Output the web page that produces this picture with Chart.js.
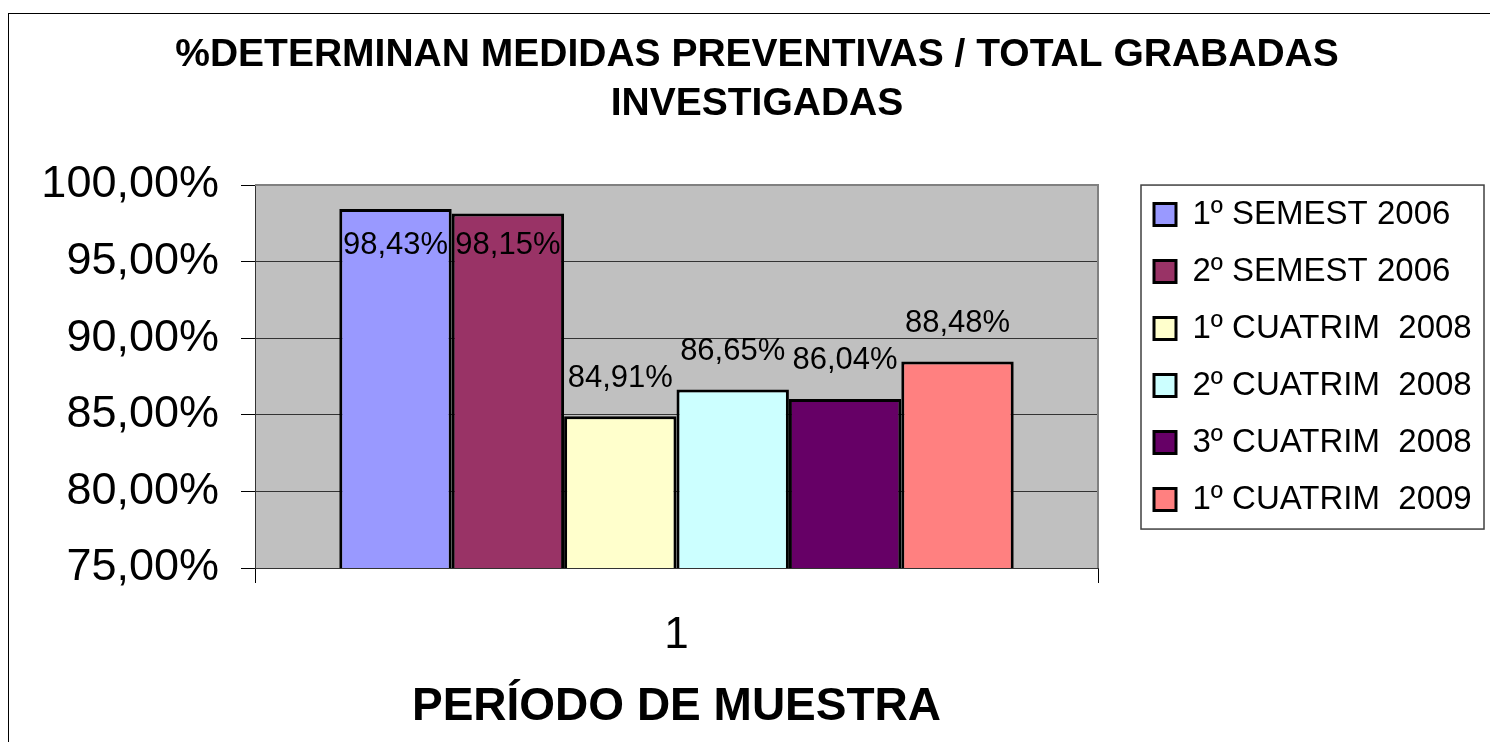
<!DOCTYPE html>
<html>
<head>
<meta charset="utf-8">
<script src="https://cdn.jsdelivr.net/npm/chart.js@4/dist/chart.umd.min.js"></script>
<style>
  html, body { margin: 0; padding: 0; background: #fff; }
  #wrap { width: 1490px; height: 742px; }
</style>
</head>
<body>
<div id="wrap"><canvas id="c" width="1490" height="742"></canvas></div>
<script>
// ---- data ----
const categories = ['1'];
const seriesLabels = ['1º SEMEST 2006', '2º SEMEST 2006', '1º CUATRIM  2008', '2º CUATRIM  2008', '3º CUATRIM  2008', '1º CUATRIM  2009'];
const seriesValues = [98.43, 98.15, 84.91, 86.65, 86.04, 88.48];
const seriesColors = ['#9999FF', '#993366', '#FFFFCC', '#CCFFFF', '#660066', '#FF8080'];
const yTickMin = 75;
const yTickMax = 100;
const yTickStep = 5;
const titleLines = ['%DETERMINAN MEDIDAS PREVENTIVAS / TOTAL GRABADAS', 'INVESTIGADAS'];
const xTitle = 'PERÍODO DE MUESTRA';

const FONT = "'Liberation Sans', Arial, sans-serif";
const fmt = v => v.toFixed(2).replace('.', ',') + '%';

const datasets = seriesLabels.map((lab, i) => ({
  label: lab,
  data: [seriesValues[i]],
  backgroundColor: seriesColors[i],
  borderColor: '#000000',
  borderWidth: 3,
  borderSkipped: false
}));

const framePlugin = {
  id: 'frame',
  beforeLayout(chart) {
    if (chart.legend && !chart.legend._fitPatched) {
      const orig = chart.legend.fit;
      chart.legend.fit = function () { orig.call(this); this.width = 392; };
      chart.legend._fitPatched = true;
    }
  },
  afterLayout(chart) {
    if (chart.legend) {
      chart.legend.left = chart.chartArea.right + 32;
      chart.legend.top = chart.chartArea.top - 11;
    }
  },
  beforeDraw(chart) {
    const { ctx, chartArea: a } = chart;
    ctx.save();
    ctx.fillStyle = '#ffffff';
    ctx.fillRect(0, 0, chart.width, chart.height);
    ctx.fillStyle = '#C0C0C0';
    ctx.fillRect(a.left, a.top, a.right - a.left, a.bottom - a.top);
    ctx.restore();
  },
  beforeDatasetsDraw(chart) {
    const { ctx, chartArea: a } = chart;
    ctx.save();
    ctx.strokeStyle = '#808080';
    ctx.lineWidth = 2;
    ctx.beginPath();
    ctx.moveTo(a.left, a.top);
    ctx.lineTo(a.right, a.top);
    ctx.lineTo(a.right, a.bottom);
    ctx.stroke();
    ctx.restore();
  },
  afterDatasetsDraw(chart) {
    const { ctx, chartArea: a } = chart;
    ctx.save();
    ctx.font = '31px ' + FONT;
    ctx.fillStyle = '#000000';
    ctx.textAlign = 'center';
    ctx.textBaseline = 'middle';
    chart.data.datasets.forEach((ds, i) => {
      const meta = chart.getDatasetMeta(i);
      meta.data.forEach((bar, j) => {
        const y = Math.max(bar.y - 38, a.top + 60);
        ctx.fillText(fmt(ds.data[j]), bar.x, y);
      });
    });
    ctx.restore();
  },
  afterDraw(chart) {
    const { ctx, chartArea: a } = chart;
    ctx.save();
    // legend frame
    ctx.strokeStyle = '#404040';
    ctx.lineWidth = 1.5;
    ctx.strokeRect(a.right + 43, a.top, 343, 344);
    // outer frame
    ctx.strokeStyle = '#000000';
    ctx.lineWidth = 1;
    ctx.strokeRect(8.5, 13.5, 1600, 800);
    ctx.restore();
  }
};

new Chart(document.getElementById('c'), {
  type: 'bar',
  data: { labels: categories, datasets },
  options: {
    responsive: false,
    devicePixelRatio: 1,
    animation: false,
    layout: { padding: { left: 24, right: 0, top: 0, bottom: 0 } },
    datasets: { bar: { categoryPercentage: 0.8, barPercentage: 1.0 } },
    plugins: {
      tooltip: { enabled: false },
      title: {
        display: true,
        text: titleLines,
        color: '#000000',
        font: { family: FONT, size: 39, weight: 'bold', lineHeight: 1.27 },
        padding: { top: 30, bottom: 56 }
      },
      legend: {
        display: true,
        position: 'right',
        align: 'start',
        labels: {
          color: '#000000',
          font: { family: FONT, size: 33 },
          boxWidth: 22,
          boxHeight: 22,
          padding: 24
        }
      }
    },
    scales: {
      x: {
        grid: { display: true, drawOnChartArea: false, color: '#000000', tickLength: 15, offset: true },
        border: { display: true, color: '#333333', width: 1 },
        ticks: { color: '#000000', font: { family: FONT, size: 44 }, padding: 26 },
        title: {
          display: true,
          text: xTitle,
          color: '#000000',
          font: { family: FONT, size: 46, weight: 'bold' },
          padding: { top: 0, bottom: 7 }
        },
        afterFit(s) { s.height = 174; }
      },
      y: {
        min: yTickMin,
        max: yTickMax,
        ticks: {
          stepSize: yTickStep,
          color: '#000000',
          font: { family: FONT, size: 45 },
          padding: 22,
          callback: v => fmt(v)
        },
        grid: { color: '#333333', tickColor: '#000000', tickLength: 14, lineWidth: 1 },
        border: { display: true, color: '#333333', width: 1 },
        afterFit(s) { s.width = 231; }
      }
    }
  },
  plugins: [framePlugin]
});
</script>
</body>
</html>
